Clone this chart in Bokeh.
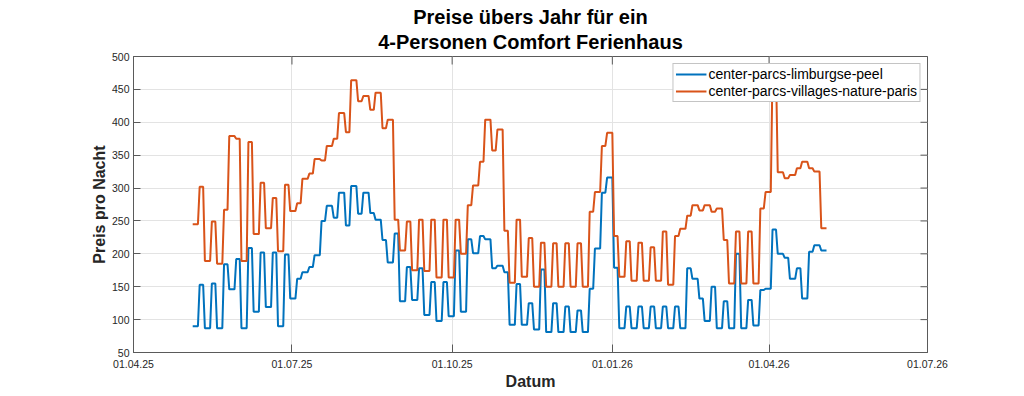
import math
import pandas as pd
from bokeh.plotting import figure
from bokeh.models import (ColumnDataSource, DatetimeTickFormatter, FixedTicker, Grid,
                          LinearAxis, DatetimeAxis, Range1d, Legend, LegendItem, Title)
from bokeh.embed import file_html
from bokeh.resources import INLINE

# ---- data (weekly prices per night: Mon-Thu "mid", Fri-Sun "wkd") ----
first_monday = "2025-05-05"
n_weeks = 52
last_day = "2026-05-04"

limburg_mid = [90, 87, 87, 146, 87, 112, 119, 90, 132, 172, 198, 273, 293, 303, 293, 252,
               187, 128, 130, 107, 98, 105, 112, 201, 222, 182, 92, 92, 85, 81, 81, 81,
               81, 208, 316, 87, 87, 87, 87, 87, 87, 162, 98, 87, 87, 87, 91, 147, 200,
               162, 132, 213]
limburg_wkd = [153, 155, 184, 192, 209, 202, 202, 199, 162, 180, 250, 255, 243, 261, 262, 221,
               231, 180, 178, 157, 157, 205, 222, 227, 178, 172, 154, 125, 176, 125, 120, 114,
               147, 293, 179, 120, 120, 120, 120, 120, 178, 132, 150, 128, 200, 130, 145, 237,
               194, 178, 203, 205]
limburg_last = 205

paris_mid = [245, 189, 185, 379, 189, 230, 239, 204, 265, 314, 344, 364, 414, 464, 440, 445,
             404, 205, 175, 174, 164, 164, 200, 304, 404, 389, 156, 165, 150, 150, 150, 150,
             150, 294, 384, 165, 159, 159, 159, 153, 238, 274, 274, 269, 155, 155, 155, 294,
             324, 320, 340, 325]
paris_wkd = [302, 249, 267, 375, 370, 308, 285, 305, 277, 322, 342, 375, 385, 432, 419, 391,
             252, 249, 252, 252, 252, 252, 274, 340, 357, 235, 252, 224, 217, 216, 216, 216,
             264, 364, 227, 219, 217, 210, 234, 227, 258, 266, 264, 221, 234, 234, 269, 480,
             315, 330, 330, 239]
paris_last = 239

series_names = ["center-parcs-limburgse-peel", "center-parcs-villages-nature-paris"]
x_tick_dates = ["2025-04-01", "2025-07-01", "2025-10-01", "2026-01-01", "2026-04-01", "2026-07-01"]
y_ticks = [50, 100, 150, 200, 250, 300, 350, 400, 450, 500]
title_lines = ["Preise übers Jahr für ein", "4-Personen Comfort Ferienhaus"]

week_start = pd.date_range(first_monday, periods=n_weeks, freq="7D")
day = pd.Timedelta(days=1)


def plateaus(mid, wkd, last):
    xs, ys = [], []
    for d, m, w in zip(week_start, mid, wkd):
        xs += [d, d + 3 * day, d + 4 * day, d + 6 * day]
        ys += [m, m, w, w]
    xs.append(pd.Timestamp(last_day))
    ys.append(last)
    return ColumnDataSource(dict(x=pd.DatetimeIndex(xs), y=ys))


def ms(s):
    return pd.Timestamp(s).value / 1e6


x_tick_ms = [ms(s) for s in x_tick_dates]

FONT = "Liberation Sans"
AX = "#5a5a5a"
TXT = "#262626"

p = figure(width=1024, height=396, x_axis_type=None, y_axis_type=None, title=None,
           x_range=Range1d(x_tick_ms[0], x_tick_ms[-1]), y_range=Range1d(y_ticks[0], y_ticks[-1]),
           output_backend="svg", toolbar_location=None,
           min_border_left=133, min_border_right=97, min_border_top=56, min_border_bottom=44)
p.background_fill_color = "white"
p.border_fill_color = "white"
p.outline_line_color = AX

xt = FixedTicker(ticks=x_tick_ms)
yt = FixedTicker(ticks=y_ticks)
fmt = DatetimeTickFormatter(days="%d.%m.%y", months="%d.%m.%y", years="%d.%m.%y",
                            hours="%d.%m.%y", minutes="%d.%m.%y")

xb = DatetimeAxis(ticker=xt, formatter=fmt, axis_label="Datum")
yl = LinearAxis(ticker=yt, axis_label="Preis pro Nacht")

for ax in (xb, yl):
    ax.axis_line_color = AX
    ax.major_tick_line_color = AX
    ax.minor_tick_line_color = None
    ax.major_tick_out = 0
    ax.major_label_text_font = FONT
    ax.major_label_text_font_size = "10.5px"
    ax.major_label_text_color = TXT
    ax.axis_label_text_font = FONT
    ax.axis_label_text_font_size = "16px"
    ax.axis_label_text_font_style = "bold"
    ax.axis_label_text_color = TXT
xb.major_tick_in = 8
yl.major_tick_in = 7
xb.major_label_standoff = 7
xb.axis_label_standoff = 2
yl.major_label_standoff = 4
yl.axis_label_standoff = 1

p.add_layout(xb, "below")
p.add_layout(yl, "left")

p.add_layout(Grid(dimension=0, ticker=xt, grid_line_color="#e3e3e3"))
p.add_layout(Grid(dimension=1, ticker=yt, grid_line_color="#e3e3e3"))

# mirrored inward ticks on top and right edges (box style)
p.scatter(x=x_tick_ms, y=[y_ticks[-1]] * len(x_tick_ms), marker="dash", size=16,
          angle=math.pi / 2, line_color=AX, line_width=1)
p.scatter(x=[x_tick_ms[-1]] * len(y_ticks), y=y_ticks, marker="dash", size=14,
          angle=0, line_color=AX, line_width=1)

title = Title(text="\n".join(title_lines), align="center", text_font=FONT,
              text_font_size="20px", text_font_style="bold", text_color="black",
              text_line_height=1.17, standoff=6)
try:
    title.text_align = "center"
except AttributeError:
    pass
p.add_layout(title, "above")

r1 = p.line("x", "y", source=plateaus(limburg_mid, limburg_wkd, limburg_last),
            line_color="#0072BD", line_width=2)
r2 = p.line("x", "y", source=plateaus(paris_mid, paris_wkd, paris_last),
            line_color="#D95319", line_width=2)

legend = Legend(items=[LegendItem(label=series_names[0], renderers=[r1]),
                       LegendItem(label=series_names[1], renderers=[r2])],
                location="top_right", margin=7, padding=2, spacing=1,
                label_height=16, glyph_height=16, glyph_width=31, label_standoff=2,
                label_text_font=FONT, label_text_font_size="14px", label_text_color="black",
                border_line_color="#8a8a8a", background_fill_color="white",
                background_fill_alpha=1.0)
p.add_layout(legend, "center")

open("out.html", "w").write(file_html(p, INLINE))
